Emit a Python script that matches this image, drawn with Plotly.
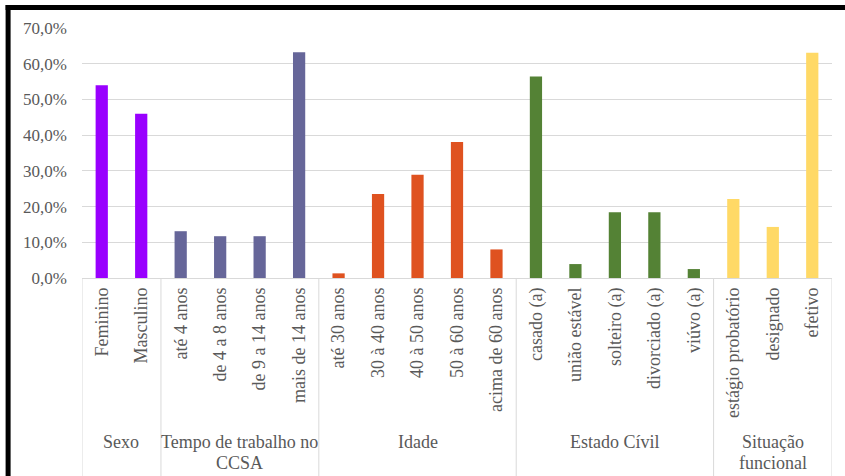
import plotly.graph_objects as go

# Perfil dos servidores: percentuais por grupo
groups = ["Sexo", "Tempo de trabalho no<br>CCSA", "Idade", "Estado Cívil", "Situação<br>funcional"]

sexo_cats = ["Feminino", "Masculino"]
sexo_vals = [54.0, 46.0]

tempo_cats = ["até 4 anos", "de 4 a 8 anos", "de 9 a 14 anos", "mais de 14 anos"]
tempo_vals = [13.1, 11.7, 11.7, 63.2]

idade_cats = ["até 30 anos", "30 à 40 anos", "40 à 50 anos", "50 à 60 anos", "acima de 60 anos"]
idade_vals = [1.3, 23.5, 28.9, 38.1, 8.0]

civil_cats = ["casado (a)", "união estável", "solteiro (a)", "divorciado (a)", "viúvo (a)"]
civil_vals = [56.4, 3.9, 18.4, 18.4, 2.5]

situacao_cats = ["estágio probatório", "designado", "efetivo"]
situacao_vals = [22.1, 14.3, 63.1]

colors = ["#9900FF", "#666699", "#DF5220", "#548235", "#FFD966"]

y_tickvals = [0, 10, 20, 30, 40, 50, 60, 70]
y_ticktext = ["0,0%", "10,0%", "20,0%", "30,0%", "40,0%", "50,0%", "60,0%", "70,0%"]

cat_lists = [sexo_cats, tempo_cats, idade_cats, civil_cats, situacao_cats]
val_lists = [sexo_vals, tempo_vals, idade_vals, civil_vals, situacao_vals]

W, H = 845, 476
M_L, M_R, M_T, M_B = 81.5, 12.5, 28, 198
PW, PH = W - M_L - M_R, H - M_T - M_B

FONT = "'Liberation Serif', 'Times New Roman', Times, serif"
GRAY = "#595959"
GRID = "#D9D9D9"

all_cats = [c for cats in cat_lists for c in cats]

fig = go.Figure()
for name, cats, vals, col in zip(groups, cat_lists, val_lists, colors):
    fig.add_trace(go.Bar(
        x=cats, y=vals, name=name.replace("<br>", " "),
        marker=dict(color=col, line=dict(width=0)),
        showlegend=False,
        hovertemplate="%{x}: %{y:.1f}%<extra></extra>",
    ))


def px_x(p):
    return (p - M_L) / PW


def px_y(p):
    return (H - M_B - p) / PH


shapes = []
annotations = []

# group separators and group labels under the category axis
start = 0
bounds = [-0.5]
for name, cats in zip(groups, cat_lists):
    end = start + len(cats)
    bounds.append(end - 0.5)
    for k, line in enumerate(name.split("<br>")):
        annotations.append(dict(
            x=(start + end - 1) / 2, xref="x", y=px_y(442 + 21 * k), yref="paper",
            text=line, showarrow=False, yanchor="middle", xanchor="center",
            font=dict(family=FONT, size=18, color=GRAY),
        ))
    start = end

for b in bounds:
    shapes.append(dict(
        type="line", xref="x", yref="paper", x0=b, x1=b,
        y0=0, y1=px_y(H), line=dict(color=GRID, width=1),
    ))

# black frame on the top and left edges
shapes.append(dict(type="line", xref="paper", yref="paper",
                   x0=px_x(5), x1=px_x(W + 5), y0=px_y(7.5), y1=px_y(7.5),
                   line=dict(color="black", width=5)))
shapes.append(dict(type="line", xref="paper", yref="paper",
                   x0=px_x(7.5), x1=px_x(7.5), y0=px_y(5), y1=px_y(H + 5),
                   line=dict(color="black", width=5)))

fig.update_layout(
    width=W, height=H,
    margin=dict(l=M_L, r=M_R, t=M_T, b=M_B, autoexpand=False),
    paper_bgcolor="white", plot_bgcolor="white",
    barmode="relative", bargap=0.69,
    font=dict(family=FONT, color=GRAY),
    shapes=shapes, annotations=annotations,
)

fig.update_xaxes(
    type="category", categoryorder="array", categoryarray=all_cats,
    range=[-0.5, len(all_cats) - 0.5],
    tickangle=-90, ticks="", showgrid=False, showline=False, zeroline=False,
    tickfont=dict(family=FONT, size=18, color=GRAY), ticklabelstandoff=5,
    automargin=False,
)
fig.update_yaxes(
    range=[0, 70], tickvals=y_tickvals, ticktext=y_ticktext,
    showgrid=True, gridcolor=GRID, gridwidth=1,
    zeroline=True, zerolinecolor=GRID, zerolinewidth=1,
    showline=False, ticks="",
    tickfont=dict(family=FONT, size=17, color=GRAY), ticklabelstandoff=14,
    automargin=False,
)

fig.write_html("out.html")
